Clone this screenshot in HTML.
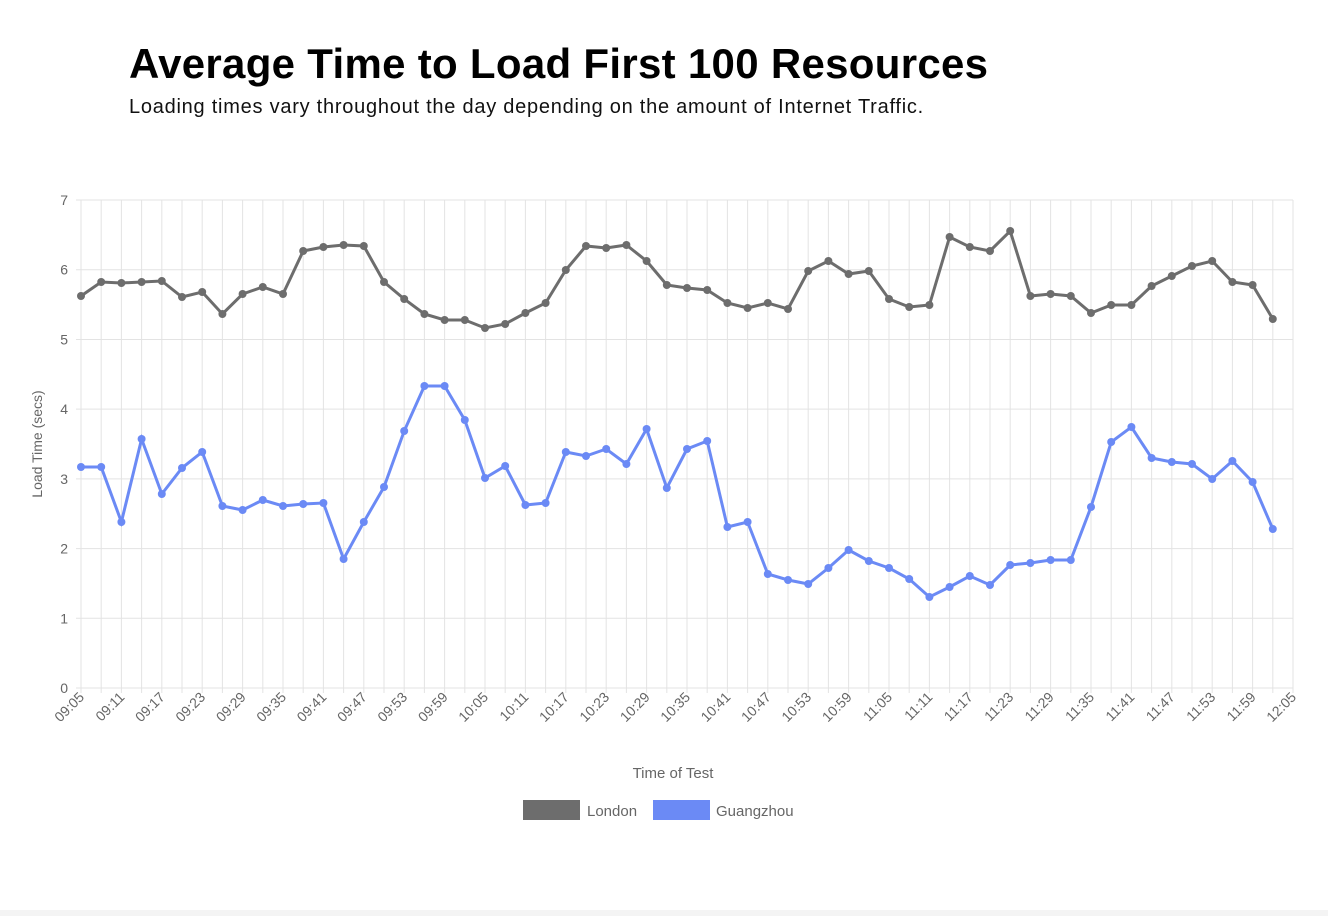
<!DOCTYPE html>
<html><head><meta charset="utf-8"><style>
body{margin:0;background:#fff;width:1328px;height:916px;overflow:hidden;font-family:"Liberation Sans",sans-serif;}
h1{position:absolute;left:129px;top:40px;margin:0;font-size:42px;font-weight:bold;color:#000;letter-spacing:0.3px;white-space:nowrap}
p{position:absolute;left:129px;top:96px;margin:0;font-size:20px;color:#111;letter-spacing:0.75px;white-space:nowrap}
svg{position:absolute;left:0;top:0}
</style></head><body>
<h1>Average Time to Load First 100 Resources</h1>
<p>Loading times vary throughout the day depending on the amount of Internet Traffic.</p>
<svg width="1328" height="916" id="s" font-family="Liberation Sans, sans-serif"></svg>
<div style="position:absolute;left:0;top:910px;width:1328px;height:6px;background:#f4f4f4"></div>
<script>
var L=[296,282,283,282,281,297,292,314,294,287,294,251,247,245,246,282,299,314,320,320,328,324,313,303,270,246,248,245,261,285,288,290,303,308,303,309,271,261,274,271,299,307,305,237,247,251,231,296,294,296,313,305,305,286,276,266,261,282,285,319];
var G=[467,467,522,439,494,468,452,506,510,500,506,504,503,559,522,487,431,386,386,420,478,466,505,503,452,456,449,464,429,488,449,441,527,522,574,580,584,568,550,561,568,579,597,587,576,585,565,563,560,560,507,442,427,458,462,464,479,461,482,529];
var x0=81,dx=20.2,s='';
for(var i=0;i<=60;i++){var x=x0+dx*i;s+='<line x1="'+x+'" y1="200" x2="'+x+'" y2="693" stroke="#e3e3e3"/>';}
for(var k=0;k<=7;k++){var y=688-k*69.71;s+='<line x1="76" y1="'+y+'" x2="1293" y2="'+y+'" stroke="#e3e3e3"/><text x="68" y="'+(y+5)+'" font-size="14" fill="#666" text-anchor="end">'+k+'</text>';}
for(var k=0;k<=30;k++){var m=9*60+5+6*k,h=Math.floor(m/60),mm=m%60;var t=(h<10?'0':'')+h+':'+(mm<10?'0':'')+mm;var x=x0+dx*2*k;
s+='<text transform="translate('+(x+4)+',698) rotate(-45)" font-size="14" fill="#666" text-anchor="end">'+t+'</text>';}
function line(a,c){var d='';a.forEach(function(y,i){d+=(i?'L':'M')+(x0+dx*i)+' '+y;});var r='<path d="'+d+'" fill="none" stroke="'+c+'" stroke-width="3"/>';a.forEach(function(y,i){r+='<circle cx="'+(x0+dx*i)+'" cy="'+y+'" r="4" fill="'+c+'"/>';});return r;}
s+=line(L,'#6d6d6d')+line(G,'#6b8af5');
s+='<text transform="translate(42,444) rotate(-90)" font-size="14" fill="#666" text-anchor="middle">Load Time (secs)</text>';
s+='<text x="673" y="778" font-size="15" fill="#666" text-anchor="middle">Time of Test</text>';
s+='<rect x="523" y="800" width="57" height="20" fill="#6d6d6d"/><text x="587" y="816" font-size="15" fill="#666">London</text>';
s+='<rect x="653" y="800" width="57" height="20" fill="#6b8af5"/><text x="716" y="816" font-size="15" fill="#666">Guangzhou</text>';
document.getElementById('s').innerHTML=s;
</script>
</body></html>
